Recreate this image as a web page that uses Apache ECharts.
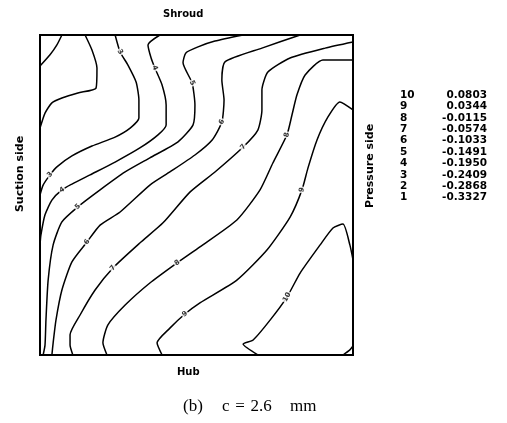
<!DOCTYPE html>
<html>
<head>
<meta charset="utf-8">
<script src="https://cdn.jsdelivr.net/npm/echarts@6/dist/echarts.min.js"></script>
<style>
    html, body { margin: 0; padding: 0; background: #fff; }
    #chart { width: 507px; height: 423px; }
</style>
</head>
<body>
<div id="chart"></div>
<script>
// contour levels (legend)
var levels = [10, 9, 8, 7, 6, 5, 4, 3, 2, 1]
var levelValues = ['0.0803', '0.0344', '-0.0115', '-0.0574', '-0.1033', '-0.1491', '-0.1950', '-0.2409', '-0.2868', '-0.3327']

// contour lines, x = suction -> pressure side (0-100), y = hub -> shroud (0-100)
var contour1 = [[7.0, 100], [5.4, 96.9], [3.2, 93.8], [0, 90.3]]
var contour2 = [[14.4, 100], [16.6, 95.3], [18.2, 89.7], [17.9, 83.4], [12.1, 81.9], [7.0, 80.3], [3.8, 78.8], [1.6, 75.6], [0, 70.9]]
var contour3 = [[24.0, 100], [25.6, 94.7], [28.1, 90.6], [30.7, 85.3], [31.6, 79.7], [31.6, 74.1], [28.8, 70.9], [24.0, 68.1], [16.6, 65.3], [10.2, 62.2], [5.4, 58.8], [3.2, 56.3], [1.0, 53.1], [0, 50]]
var contour4 = [[38.3, 100], [34.5, 96.9], [35.5, 92.8], [36.7, 89.7], [39.0, 84.4], [40.3, 78.1], [40.3, 71.9], [37.7, 68.8], [31.9, 64.7], [24.0, 60.3], [16.0, 56.3], [10.2, 53.4], [7.0, 51.6], [3.8, 48.4], [1.6, 43.8], [0.3, 37.5], [0, 34.4]]
var contour5 = [[64.9, 100], [55.9, 98.1], [50.5, 96.3], [46.6, 94.4], [45.7, 91.3], [48.6, 85.0], [49.5, 78.1], [48.9, 71.9], [44.1, 66.6], [35.1, 61.6], [27.2, 57.2], [19.2, 51.6], [12.1, 46.3], [7.0, 41.6], [4.2, 34.4], [2.6, 23.4], [1.9, 10.9], [1.6, 3.1], [1.0, 0]]
var contour6 = [[83.1, 100], [70.9, 95.9], [59.1, 91.6], [58.1, 85.9], [58.8, 79.7], [58.1, 72.8], [55.0, 67.2], [49.5, 62.5], [41.5, 57.2], [35.1, 53.1], [25.6, 44.7], [19.2, 40.6], [15.0, 35.3], [10.2, 29.1], [7.0, 20.3], [5.1, 10.9], [4.2, 3.8], [3.8, 0]]
var contour7 = [[100, 97.8], [91.1, 95.9], [79.9, 92.8], [72.8, 88.4], [70.9, 82.8], [70.9, 76.6], [69.6, 70.3], [64.9, 65.0], [55.9, 57.2], [47.9, 50.9], [39.3, 41.3], [31.9, 35.0], [23.3, 27.2], [17.6, 20.3], [12.8, 12.5], [9.6, 6.3], [9.6, 3.1], [10.5, 0]]
var contour8 = [[100, 92.2], [90.4, 92.2], [84.7, 87.5], [82.1, 81.3], [80.5, 75.0], [78.9, 68.8], [74.4, 60.0], [70.3, 51.6], [62.9, 42.2], [51.1, 33.8], [43.8, 28.8], [35.1, 22.5], [27.2, 15.6], [21.7, 9.4], [20.1, 3.8], [21.4, 0]]
var contour9 = [[100, 76.6], [95.8, 79.1], [92.0, 74.4], [88.5, 67.2], [85.6, 58.4], [83.7, 51.6], [79.9, 43.1], [72.5, 32.8], [62.9, 23.4], [51.1, 16.3], [46.3, 12.8], [41.5, 8.4], [37.4, 3.8], [39.0, 0]]
var contour10 = [[100, 29.7], [99.0, 34.4], [96.8, 40.9], [93.6, 39.7], [89.5, 34.4], [83.1, 25.6], [78.9, 18.1], [73.5, 10.9], [68.1, 4.7], [64.9, 3.4], [69.6, 0]]
var contour10b = [[96.8, 0], [99.0, 1.6], [100, 2.8]]

// inline labels: [x, y, level]
var contourLabels = [
    [25.6, 94.7, 3], [3.2, 56.3, 3],
    [36.7, 89.7, 4], [7.0, 51.6, 4],
    [48.6, 85.0, 5], [12.1, 46.3, 5],
    [58.1, 72.8, 6], [15.0, 35.3, 6],
    [64.9, 65.0, 7], [23.3, 27.2, 7],
    [78.9, 68.8, 8], [43.8, 28.8, 8],
    [83.7, 51.6, 9], [46.3, 12.8, 9],
    [78.9, 18.1, 10]
]

var contours = [contour1, contour2, contour3, contour4, contour5, contour6, contour7, contour8, contour9, contour10, contour10b]
var contourLevel = [1, 2, 3, 4, 5, 6, 7, 8, 9, 10, 10]

// 计算标签方向：取所在等值线上最近线段的角度
function labelAngle (x, y, level) {
    var best = null
    var bestD = Infinity
    contours.forEach(function (line, k) {
        if (contourLevel[k] !== level) return
        for (var i = 0; i < line.length - 1; i++) {
            var mx = (line[i][0] + line[i + 1][0]) / 2
            var my = (line[i][1] + line[i + 1][1]) / 2
            var d = (mx - x) * (mx - x) + (my - y) * (my - y)
            if (d < bestD) { bestD = d; best = [line[i], line[i + 1]] }
        }
    })
    if (!best) return 0
    var a = Math.atan2((best[1][1] - best[0][1]) * 3.2, (best[1][0] - best[0][0]) * 3.13) * 180 / Math.PI
    if (a > 90) a -= 180
    if (a < -90) a += 180
    return a
}

var series = contours.map(function (line) {
    return {
        type: 'line',
        data: line,
        symbol: 'none',
        smooth: 0.2,
        lineStyle: { color: '#000', width: 1.5 },
        silent: true,
        z: 2
    }
})
series.push({
    type: 'scatter',
    symbolSize: 1,
    itemStyle: { color: 'rgba(0,0,0,0)' },
    silent: true,
    z: 5,
    data: contourLabels.map(function (p) {
        return {
            value: [p[0], p[1]],
            label: {
                show: true,
                position: 'inside',
                formatter: String(p[2]),
                rotate: labelAngle(p[0], p[1], p[2]),
                fontSize: 7,
                fontWeight: 'bold',
                fontFamily: 'DejaVu Sans',
                color: '#000',
                backgroundColor: '#fff',
                padding: [0, 1]
            }
        }
    })
})

// 图例文字（等值线编号与数值）
var graphics = []
levels.forEach(function (lv, i) {
    var y = 95 + i * 11.4
    graphics.push({
        type: 'text', x: 400, y: y,
        style: { text: String(lv), font: 'bold 10.5px "DejaVu Sans"', fill: '#000', verticalAlign: 'middle' }
    })
    graphics.push({
        type: 'text', x: 487, y: y,
        style: { text: levelValues[i], font: 'bold 10.5px "DejaVu Sans"', fill: '#000', align: 'right', verticalAlign: 'middle' }
    })
})
graphics.push(
    { type: 'text', left: 163, top: 9, style: { text: 'Shroud', font: 'bold 10px "DejaVu Sans"', fill: '#000' } },
    { type: 'text', left: 177, top: 367, style: { text: 'Hub', font: 'bold 10px "DejaVu Sans"', fill: '#000' } },
    { type: 'text', x: 20, y: 174, rotation: Math.PI / 2,
        style: { text: 'Suction side', font: 'bold 11px "DejaVu Sans"', fill: '#000', align: 'center', verticalAlign: 'middle' } },
    { type: 'text', x: 370, y: 166, rotation: Math.PI / 2,
        style: { text: 'Pressure side', font: 'bold 11px "DejaVu Sans"', fill: '#000', align: 'center', verticalAlign: 'middle' } },
    { type: 'text', x: 183, y: 407, style: { text: '(b)', font: '17px "Liberation Serif"', fill: '#000', verticalAlign: 'middle' } },
    { type: 'text', x: 222, y: 407, style: { text: 'c\u2004=\u20042.6', font: '17px "Liberation Serif"', fill: '#000', verticalAlign: 'middle' } },
    { type: 'text', x: 290, y: 407, style: { text: 'mm', font: '17px "Liberation Serif"', fill: '#000', verticalAlign: 'middle' } }
)

var myChart = echarts.init(document.getElementById('chart'))
myChart.setOption({
    animation: false,
    grid: {
        left: 40, top: 35, width: 313, height: 320,
        show: true, borderColor: '#000', borderWidth: 2
    },
    xAxis: { type: 'value', min: 0, max: 100, show: false },
    yAxis: { type: 'value', min: 0, max: 100, show: false },
    series: series,
    graphic: graphics
})
</script>
</body>
</html>
